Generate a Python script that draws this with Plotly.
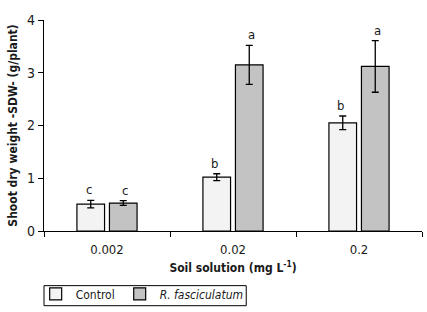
import plotly.graph_objects as go

categories = ["0.002", "0.02", "0.2"]
control = [0.51, 1.02, 2.05]
control_err = [0.07, 0.065, 0.13]
fasc = [0.53, 3.15, 3.12]
fasc_err = [0.045, 0.37, 0.49]
control_letters = ["c", "b", "b"]
fasc_letters = ["c", "a", "a"]
yticks = [0, 1, 2, 3, 4]

FONT = "Liberation Sans Narrow, DejaVu Sans Condensed, Liberation Sans, Arial, sans-serif"
TXT = "#1a1a1a"

fig = go.Figure()
fig.add_trace(go.Bar(
    x=categories, y=control, name="Control",
    marker=dict(color="#f3f3f3", line=dict(color="black", width=1.2)),
    error_y=dict(type="data", array=control_err, color="black", thickness=1.3, width=3.5),
))
fig.add_trace(go.Bar(
    x=categories, y=fasc, name="<i>R. fasciculatum</i>",
    marker=dict(color="#c3c3c3", line=dict(color="black", width=1.2)),
    error_y=dict(type="data", array=fasc_err, color="black", thickness=1.3, width=3.5),
))

off = 0.143
for i in range(len(categories)):
    fig.add_annotation(x=i - off, y=control[i] + control_err[i], text=control_letters[i],
                       showarrow=False, yanchor="bottom", yshift=1,
                       font=dict(family=FONT, size=13, color=TXT))
    fig.add_annotation(x=i + off, y=fasc[i] + fasc_err[i], text=fasc_letters[i],
                       showarrow=False, yanchor="bottom", yshift=1,
                       font=dict(family=FONT, size=13, color=TXT))

# legend frame
fig.add_shape(type="rect", xref="paper", yref="paper",
              x0=0, x1=0.535, y0=-0.354, y1=-0.259,
              line=dict(color="black", width=1), fillcolor="rgba(0,0,0,0)")

fig.update_layout(
    width=427, height=312,
    margin=dict(l=44, r=5, t=20, b=80),
    paper_bgcolor="white", plot_bgcolor="white",
    barmode="group", bargap=0.484, bargroupgap=0.15,
    font=dict(family=FONT, size=12, color=TXT),
    showlegend=True,
    legend=dict(orientation="h", x=-0.022, xanchor="left", y=-0.36, yanchor="bottom",
                borderwidth=0, bgcolor="rgba(0,0,0,0)", font=dict(size=12),
                itemwidth=30, tracegroupgap=0),
    xaxis=dict(
        type="category", showline=True, linecolor="black", linewidth=1.2,
        ticks="outside", tickson="boundaries", ticklen=5, tickcolor="black",
        showgrid=False, tickfont=dict(size=13), automargin=True, ticklabelstandoff=6,
        title=dict(text="<b>Soil solution (mg L<sup>-1</sup>)</b>", font=dict(size=12), standoff=7),
    ),
    yaxis=dict(
        range=[0, 4], tickvals=yticks, showline=True, linecolor="black", linewidth=1.2,
        ticks="outside", ticklen=5, tickcolor="black", showgrid=False, zeroline=False,
        tickfont=dict(size=14), automargin=True,
        title=dict(text="<b>Shoot dry weight -SDW- (g/plant)</b>", font=dict(size=12), standoff=6),
    ),
)

fig.write_html("out.html", config={"displayModeBar": False},
               post_script="document.body.style.margin='0';")
